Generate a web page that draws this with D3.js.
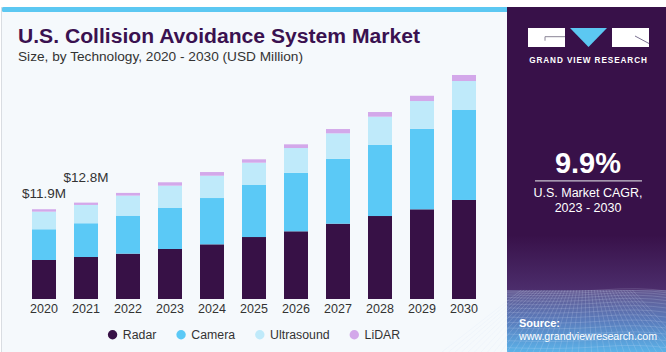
<!DOCTYPE html>
<html><head><meta charset="utf-8">
<script src="https://cdn.jsdelivr.net/npm/d3@7"></script>
<style>body{margin:0;background:#fff}svg{display:block}</style>
</head><body><svg id="c" width="666" height="352"></svg>
<script>
const years = ["2020","2021","2022","2023","2024","2025","2026","2027","2028","2029","2030"];
const radar = [5.18,5.58,6.02,6.64,7.26,8.23,8.99,10.0,11.02,11.91,13.15];
const camera = [4.08,4.48,5.05,5.49,6.15,6.91,7.78,8.63,9.47,10.7,11.95];
const ultrasound = [2.34,2.43,2.66,2.92,2.96,2.96,3.28,3.37,3.72,3.68,3.85];
const lidar = [0.32,0.31,0.36,0.45,0.49,0.45,0.49,0.57,0.62,0.70,0.80];
const seriesNames = ["Radar","Camera","Ultrasound","LiDAR"];
const seriesColors = ["#371146","#5bc9f6","#bfeafa","#d3a8ea"];
const annotationYears = ["2020","2021"];
const annotationLabels = ["$11.9M","$12.8M"];

const svg = d3.select("#c");
const font = "'Liberation Sans', Arial, sans-serif";
const purple = "#381149";

// main panel
svg.append("rect").attr("x",1.5).attr("y",7.5).attr("width",506).attr("height",346)
  .attr("fill","#f5f9fc").attr("stroke","#d9dde2").attr("stroke-width",1);
svg.append("rect").attr("x",2).attr("y",7).attr("width",506).attr("height",5).attr("rx",1.5).attr("fill","#5cc8f2");

// right panel
const defs = svg.append("defs");
const g0 = defs.append("linearGradient").attr("id","sky").attr("x1",0).attr("y1",0).attr("x2",0).attr("y2",1);
g0.append("stop").attr("offset","0").attr("stop-color",purple);
g0.append("stop").attr("offset","1").attr("stop-color","#4c2d6c");
const g1 = defs.append("linearGradient").attr("id","rg").attr("x1",0).attr("y1",0).attr("x2",0).attr("y2",1);
g1.append("stop").attr("offset","0").attr("stop-color","#62568e");
g1.append("stop").attr("offset","0.5").attr("stop-color","#5a7cbc");
g1.append("stop").attr("offset","1").attr("stop-color","#5bb2e8");
svg.append("rect").attr("x",507).attr("y",7).attr("width",159).attr("height",345).attr("fill",purple);
svg.append("rect").attr("x",507).attr("y",235).attr("width",159).attr("height",55).attr("fill","url(#sky)");
svg.append("rect").attr("x",507).attr("y",290).attr("width",159).attr("height",62).attr("fill","url(#rg)");
// decorative grid
const grid = svg.append("g").attr("stroke","#d8e6fa").attr("stroke-opacity",0.3).attr("stroke-width",0.6).attr("fill","none");
for (let i=0;i<14;i++){ const yy = 291 + i*i*0.22 + i*1.5; grid.append("path").attr("d",`M507,${yy} Q560,${yy+2} 600,${yy-1} T666,${yy}`); }
for (let i=-10;i<=28;i++){ const xt = 507 + i*6.5; grid.append("line").attr("x1",586+(xt-586)*0.45).attr("y1",290).attr("x2",xt).attr("y2",352); }

// logo
svg.append("rect").attr("x",528).attr("y",28).attr("width",37).attr("height",19).attr("fill","#fff");
svg.append("path").attr("d","M570,28 L607,28 L588.5,47 Z").attr("fill","#5cc8f2");
svg.append("rect").attr("x",612).attr("y",28).attr("width",37).attr("height",19).attr("fill","#fff");
svg.append("path").attr("d","M545,40.7 L545,36.7 L565,36.7").attr("stroke","#8a8496").attr("stroke-width",1).attr("fill","none");
svg.append("path").attr("d","M635,36 L649,43.5").attr("stroke","#7a7090").attr("stroke-width",1).attr("fill","none");
svg.append("text").attr("x",588.5).attr("y",63).attr("text-anchor","middle").attr("fill","#fff")
  .attr("font-family",font).attr("font-weight","bold").attr("font-size",8.2).attr("letter-spacing",0.9).text("GRAND VIEW RESEARCH");

svg.append("text").attr("x",588).attr("y",172.5).attr("text-anchor","middle").attr("fill","#fff")
  .attr("font-family",font).attr("font-weight","bold").attr("font-size",29).text("9.9%");
svg.append("line").attr("x1",535).attr("x2",642).attr("y1",180.8).attr("y2",180.8).attr("stroke","#c9c3d0").attr("stroke-width",1.3);
svg.append("text").attr("x",588).attr("y",197).attr("text-anchor","middle").attr("fill","#fff")
  .attr("font-family",font).attr("font-size",12.5).text("U.S. Market CAGR,");
svg.append("text").attr("x",588).attr("y",212).attr("text-anchor","middle").attr("fill","#fff")
  .attr("font-family",font).attr("font-size",12.5).text("2023 - 2030");
svg.append("text").attr("x",519).attr("y",327).attr("fill","#fff")
  .attr("font-family",font).attr("font-weight","bold").attr("font-size",11).text("Source:");
svg.append("text").attr("x",519).attr("y",339.5).attr("fill","#fff")
  .attr("font-family",font).attr("font-size",11).attr("textLength",138).attr("lengthAdjust","spacingAndGlyphs").text("www.grandviewresearch.com");

// titles
svg.append("text").attr("x",18).attr("y",42.5).attr("fill","#3a1150")
  .attr("font-family",font).attr("font-weight","bold").attr("font-size",19.5)
  .attr("textLength",402).attr("lengthAdjust","spacingAndGlyphs").text("U.S. Collision Avoidance System Market");
svg.append("text").attr("x",18).attr("y",61).attr("fill","#333")
  .attr("font-family",font).attr("font-size",13).attr("textLength",285).attr("lengthAdjust","spacingAndGlyphs")
  .text("Size, by Technology, 2020 - 2030 (USD Million)");

// scales
const x = d3.scaleBand().domain(years).range([23,485]).paddingInner(0.4286).paddingOuter(0.2143);
const y = d3.scaleLinear().domain([0,30]).range([299,299-30*7.53]);

const table = years.map((yr,i)=>({year:yr, Radar:radar[i], Camera:camera[i], Ultrasound:ultrasound[i], LiDAR:lidar[i]}));
const stack = d3.stack().keys(seriesNames)(table);
const color = d3.scaleOrdinal().domain(seriesNames).range(seriesColors);

svg.append("g").selectAll("g").data(stack).join("g").attr("fill",d=>color(d.key))
  .selectAll("rect").data(d=>d).join("rect")
  .attr("x",d=>x(d.data.year)).attr("width",x.bandwidth())
  .attr("y",d=>y(d[1])).attr("height",d=>y(d[0])-y(d[1]));

// axis
const ax = svg.append("g").attr("transform","translate(0,299)").call(d3.axisBottom(x).tickSize(0).tickPadding(5));
ax.select(".domain").remove();
ax.selectAll("text").attr("font-family",font).attr("font-size",12.5).attr("fill","#333").attr("dy","0.71em");

// annotations
const totals = years.map((yr,i)=>radar[i]+camera[i]+ultrasound[i]+lidar[i]);
const annOffsets = [11, 21];
annotationYears.forEach((yr,j)=>{
  const i = years.indexOf(yr);
  svg.append("text").attr("x",x(yr)+x.bandwidth()/2).attr("y",y(totals[i])-annOffsets[j])
    .attr("text-anchor","middle").attr("fill","#333").attr("font-family",font).attr("font-size",13.5).text(annotationLabels[j]);
});

// legend
const lg = svg.append("g");
let cx = 0;
seriesNames.forEach((n,i)=>{
  const g = lg.append("g").attr("transform",`translate(${cx},0)`);
  g.append("circle").attr("cx",4.7).attr("cy",0).attr("r",4.7).attr("fill",seriesColors[i]);
  const t = g.append("text").attr("x",15).attr("y",4.5).attr("fill","#333").attr("font-family",font).attr("font-size",12.3).text(n);
  cx += 15 + t.node().getComputedTextLength() + 20;
});
const lw = cx - 20;
lg.attr("transform",`translate(${254 - lw/2},334.7)`);
</script></body></html>
